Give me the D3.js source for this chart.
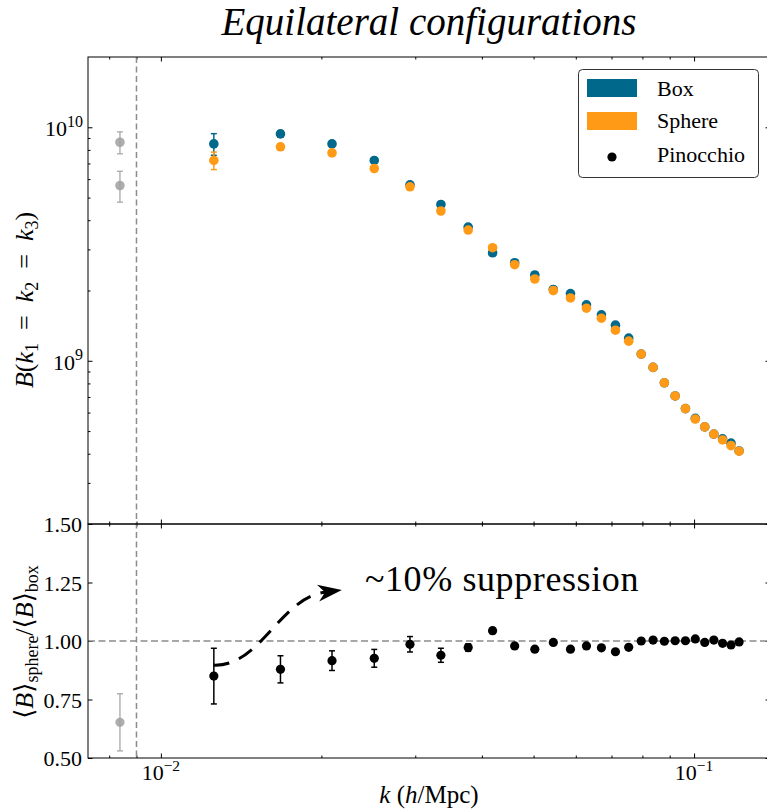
<!DOCTYPE html>
<html>
<head>
<meta charset="utf-8">
<script src="https://cdn.jsdelivr.net/npm/d3@7"></script>
<style>
body { margin: 0; background: #fff; }
svg text { font-family: "Liberation Serif", "DejaVu Serif", serif; fill: #000; }
</style>
</head>
<body>
<script>
// k bins in h/Mpc (first bin sits below the large-scale cut and is greyed out)
var kBins = [0.00838, 0.01257, 0.01676, 0.02094, 0.02513, 0.02932, 0.03351, 0.03770,
             0.04189, 0.04608, 0.05027, 0.05445, 0.05864, 0.06283, 0.06702, 0.07121,
             0.07540, 0.07959, 0.08378, 0.08796, 0.09215, 0.09634, 0.10053, 0.10472,
             0.10891, 0.11310, 0.11729, 0.12147];
var kCut = 0.009;

// mean bispectrum, box
var boxB = [8.63e9, 8.49e9, 9.37e9, 8.49e9, 7.21e9, 5.67e9, 4.67e9, 3.74e9,
            2.90e9, 2.63e9, 2.33e9, 2.02e9, 1.94e9, 1.735e9, 1.573e9, 1.421e9,
            1.250e9, 1.068e9, 9.37e8, 8.05e8, 7.07e8, 6.24e8, 5.67e8, 5.21e8,
            4.85e8, 4.63e8, 4.44e8, 4.11e8];
var boxErr = [0.93e9, 0.90e9, 0.30e9, 0.22e9, 0.16e9, 0.11e9, 0.08e9, 0.06e9,
              0.045e9, 0.035e9, 0.03e9, 0.025e9, 0.022e9, 0.018e9, 0.016e9, 0.014e9,
              0.012e9, 0.010e9, 8e6, 7e6, 6e6, 5e6, 4.5e6, 4e6,
              3.5e6, 3.2e6, 3e6, 2.8e6];

// mean bispectrum, sphere
var sphereB = [5.63e9, 7.21e9, 8.25e9, 7.77e9, 6.66e9, 5.56e9, 4.38e9, 3.63e9,
               3.05e9, 2.58e9, 2.24e9, 2.00e9, 1.858e9, 1.680e9, 1.522e9, 1.352e9,
               1.214e9, 1.068e9, 9.37e8, 8.05e8, 7.07e8, 6.24e8, 5.63e8, 5.21e8,
               4.85e8, 4.58e8, 4.33e8, 4.10e8];
var sphereErr = [0.85e9, 0.62e9, 0.25e9, 0.20e9, 0.15e9, 0.10e9, 0.08e9, 0.06e9,
                 0.045e9, 0.035e9, 0.03e9, 0.025e9, 0.022e9, 0.018e9, 0.016e9, 0.014e9,
                 0.012e9, 0.010e9, 8e6, 7e6, 6e6, 5e6, 4.5e6, 4e6,
                 3.5e6, 3.2e6, 3e6, 2.8e6];

// ratio sphere / box
var ratio = [0.6525, 0.850, 0.879, 0.916, 0.926, 0.986, 0.939, 0.972,
             1.044, 0.979, 0.965, 0.994, 0.965, 0.979, 0.971, 0.954,
             0.973, 1.000, 1.004, 0.999, 1.001, 1.001, 1.009, 0.994,
             1.004, 0.990, 0.983, 0.996];
var ratioErr = [0.122, 0.119, 0.058, 0.042, 0.038, 0.033, 0.030, 0.016,
                0.012, 0.010, 0.009, 0.008, 0.008, 0.007, 0.007, 0.006,
                0.006, 0.005, 0.005, 0.005, 0.005, 0.004, 0.004, 0.004,
                0.004, 0.004, 0.004, 0.004];

// ticks
var xMajor = [0.01, 0.1], xMajorExp = ["\u22122", "\u22121"];
var xMinor = [0.008, 0.009, 0.02, 0.03, 0.04, 0.05, 0.06, 0.07, 0.08, 0.09];
var yTopMajor = [1e9, 1e10], yTopExp = ["9", "10"];
var yTopMinor = [3e8, 4e8, 5e8, 6e8, 7e8, 8e8, 9e8, 2e9, 3e9, 4e9, 5e9, 6e9, 7e9, 8e9, 9e9];
var yBotTicks = [0.5, 0.75, 1.0, 1.25, 1.5];
var yBotLabels = ["0.50", "0.75", "1.00", "1.25", "1.50"];

var legendNames = ["Box", "Sphere", "Pinocchio"];
var colors = {box: "#00688b", sphere: "#ff9a17", grey: "#a0a0a0"};

// geometry
var L = 88, R = 770, T = 57, M = 524, B = 758;

var svg = d3.select("body").append("svg")
    .attr("width", 767)
    .attr("height", 812);

var x = d3.scaleLog().domain([0.0073, 0.1388]).range([L, R]);
var yTop = d3.scaleLog().domain([2e8, 2e10]).range([M, T]);
var yBot = d3.scaleLinear().domain([0.5, 1.5]).range([B, M]);

// title
svg.append("text")
    .attr("x", (L + R) / 2).attr("y", 35)
    .attr("text-anchor", "middle")
    .style("font-size", "39px")
    .style("font-style", "italic")
    .text("Equilateral configurations");

// inward ticks with d3 axes
function ticks(axis, tx, ty, len) {
    svg.append("g")
        .attr("transform", "translate(" + tx + "," + ty + ")")
        .call(axis.tickSize(-len).tickFormat(""))
        .call(function(g) { g.select(".domain").remove(); })
        .selectAll("line").attr("stroke", "#000").attr("stroke-width", 1);
}
[T, M].forEach(function(yy) {
    ticks(d3.axisBottom(x).tickValues(xMajor), 0, yy, -4.5);
    ticks(d3.axisBottom(x).tickValues(xMinor), 0, yy, -2.5);
});
[M, B].forEach(function(yy) {
    ticks(d3.axisBottom(x).tickValues(xMajor), 0, yy, 4.5);
    ticks(d3.axisBottom(x).tickValues(xMinor), 0, yy, 2.5);
});
ticks(d3.axisLeft(yTop).tickValues(yTopMajor), L, 0, 4.5);
ticks(d3.axisLeft(yTop).tickValues(yTopMinor), L, 0, 2.5);
ticks(d3.axisRight(yTop).tickValues(yTopMajor), R, 0, 4.5);
ticks(d3.axisRight(yTop).tickValues(yTopMinor), R, 0, 2.5);
ticks(d3.axisLeft(yBot).tickValues(yBotTicks), L, 0, 4.5);
ticks(d3.axisRight(yBot).tickValues(yBotTicks), R, 0, 4.5);

// tick labels
var xl = svg.selectAll(".xlab").data(xMajor).enter().append("text")
    .attr("class", "xlab")
    .attr("x", function(d) { return x(d); })
    .attr("y", 780)
    .attr("text-anchor", "middle")
    .style("font-size", "22px");
xl.append("tspan").text("10");
xl.append("tspan").attr("dy", -9).style("font-size", "15.5px")
    .text(function(d, i) { return xMajorExp[i]; });

var yl = svg.selectAll(".ylab").data(yTopMajor).enter().append("text")
    .attr("class", "ylab")
    .attr("x", 83)
    .attr("y", function(d) { return yTop(d) + 9; })
    .attr("text-anchor", "end")
    .style("font-size", "22px");
yl.append("tspan").text("10");
yl.append("tspan").attr("dy", -9.5).style("font-size", "16px")
    .text(function(d, i) { return yTopExp[i]; });

svg.selectAll(".yblab").data(yBotTicks).enter().append("text")
    .attr("class", "yblab")
    .attr("x", 82)
    .attr("y", function(d) { return yBot(d) + 8; })
    .attr("text-anchor", "end")
    .style("font-size", "22px")
    .text(function(d, i) { return yBotLabels[i]; });

// reference lines
svg.append("line")
    .attr("x1", x(kCut)).attr("x2", x(kCut))
    .attr("y1", T).attr("y2", B)
    .attr("stroke", "#8c8c8c").attr("stroke-width", 1.5)
    .attr("stroke-dasharray", "6,3.5");
svg.append("line")
    .attr("x1", L).attr("x2", R)
    .attr("y1", yBot(1)).attr("y2", yBot(1))
    .attr("stroke", "#8c8c8c").attr("stroke-width", 1.5)
    .attr("stroke-dasharray", "7,3.5");

// error bars + points
function series(vals, errs, y, col, r) {
    var g = svg.append("g");
    var eb = g.selectAll(".eb").data(vals).enter().append("g")
        .attr("stroke", function(d, i) { return kBins[i] < kCut ? colors.grey : col; })
        .attr("stroke-opacity", function(d, i) { return kBins[i] < kCut ? 0.8 : 1; })
        .attr("stroke-width", 1.5);
    eb.append("line")
        .attr("x1", function(d, i) { return x(kBins[i]); })
        .attr("x2", function(d, i) { return x(kBins[i]); })
        .attr("y1", function(d, i) { return y(d - errs[i]); })
        .attr("y2", function(d, i) { return y(d + errs[i]); });
    [-1, 1].forEach(function(s) {
        eb.append("line")
            .attr("x1", function(d, i) { return x(kBins[i]) - 3; })
            .attr("x2", function(d, i) { return x(kBins[i]) + 3; })
            .attr("y1", function(d, i) { return y(d + s * errs[i]); })
            .attr("y2", function(d, i) { return y(d + s * errs[i]); });
    });
    g.selectAll("circle").data(vals).enter().append("circle")
        .attr("cx", function(d, i) { return x(kBins[i]); })
        .attr("cy", function(d) { return y(d); })
        .attr("r", r)
        .attr("fill", function(d, i) { return kBins[i] < kCut ? colors.grey : col; })
        .attr("fill-opacity", function(d, i) { return kBins[i] < kCut ? 0.85 : 1; });
}
series(boxB, boxErr, yTop, colors.box, 4.8);
series(sphereB, sphereErr, yTop, colors.sphere, 4.8);
series(ratio, ratioErr, yBot, "#000", 4.6);

// spines
svg.append("rect").attr("x", L).attr("y", T).attr("width", R - L).attr("height", M - T)
    .attr("fill", "none").attr("stroke", "#000").attr("stroke-width", 1);
svg.append("rect").attr("x", L).attr("y", M).attr("width", R - L).attr("height", B - M)
    .attr("fill", "none").attr("stroke", "#000").attr("stroke-width", 1);

// annotation: dashed arrow + text
var p0 = [x(0.01255), yBot(0.897)], p3 = [x(0.02185), yBot(1.218)];
var c1 = [p0[0] + 47, p0[1] + 2], c2 = [p3[0] - 62, p3[1] + 8];
var ang = Math.atan2(p3[1] - c2[1], p3[0] - c2[0]);
var back = [p3[0] - 17 * Math.cos(ang), p3[1] - 17 * Math.sin(ang)];
var path = d3.path();
path.moveTo(p0[0], p0[1]);
path.bezierCurveTo(c1[0], c1[1], c2[0], c2[1], back[0], back[1]);
svg.append("path").attr("d", path.toString())
    .attr("fill", "none").attr("stroke", "#000").attr("stroke-width", 3)
    .attr("stroke-dasharray", "16,10.5");
svg.append("path")
    .attr("d", "M0,0L-24,-8.5L-17,0L-24,8.5Z")
    .attr("transform", "translate(" + p3[0] + "," + p3[1] + ") rotate(" + ang * 180 / Math.PI + ")")
    .attr("fill", "#000");
svg.append("text")
    .attr("x", x(0.02414)).attr("y", yBot(1.214))
    .style("font-size", "36px")
    .style("letter-spacing", "0.6px")
    .text("~10% suppression");

// axis labels
var xlab = svg.append("text")
    .attr("x", (L + R) / 2).attr("y", 803)
    .attr("text-anchor", "middle")
    .style("font-size", "25px");
xlab.append("tspan").style("font-style", "italic").text("k");
xlab.append("tspan").text(" (");
xlab.append("tspan").style("font-style", "italic").text("h");
xlab.append("tspan").text("/Mpc)");

var ylab1 = svg.append("text")
    .attr("transform", "translate(33,300) rotate(-90)")
    .attr("text-anchor", "middle")
    .style("font-size", "26px");
ylab1.append("tspan").style("font-style", "italic").text("B");
ylab1.append("tspan").text("(");
[1, 2, 3].forEach(function(n, i) {
    ylab1.append("tspan").style("font-style", "italic").text("k");
    ylab1.append("tspan").attr("dy", 5).style("font-size", "18px").text(n);
    ylab1.append("tspan").attr("dy", -5).text(i < 2 ? "\u2002=\u2002" : ")");
});

var ylab2 = svg.append("text")
    .attr("transform", "translate(33,642) rotate(-90)")
    .attr("text-anchor", "middle")
    .style("font-size", "26px");
["sphere", "box"].forEach(function(s, i) {
    ylab2.append("tspan").text("\u27e8");
    ylab2.append("tspan").style("font-style", "italic").text("B");
    ylab2.append("tspan").text("\u27e9");
    ylab2.append("tspan").attr("dy", 5).style("font-size", "18px").text(s);
    ylab2.append("tspan").attr("dy", -5).text(i == 0 ? "/" : "");
});

// legend
var lg = svg.append("g");
lg.append("rect")
    .attr("x", 578.5).attr("y", 69.5).attr("width", 180).attr("height", 108).attr("rx", 4)
    .attr("fill", "#fff").attr("stroke", "#333").attr("stroke-width", 1);
lg.append("rect").attr("x", 587).attr("y", 79).attr("width", 50).attr("height", 18).attr("fill", colors.box);
lg.append("rect").attr("x", 587).attr("y", 112).attr("width", 50).attr("height", 18).attr("fill", colors.sphere);
lg.append("circle").attr("cx", 612).attr("cy", 157).attr("r", 4.6).attr("fill", "#000");
lg.selectAll(".lt").data(legendNames).enter().append("text")
    .attr("x", 657)
    .attr("y", function(d, i) { return [96, 128, 162][i]; })
    .style("font-size", "22px")
    .text(function(d) { return d; });
</script>
</body>
</html>
